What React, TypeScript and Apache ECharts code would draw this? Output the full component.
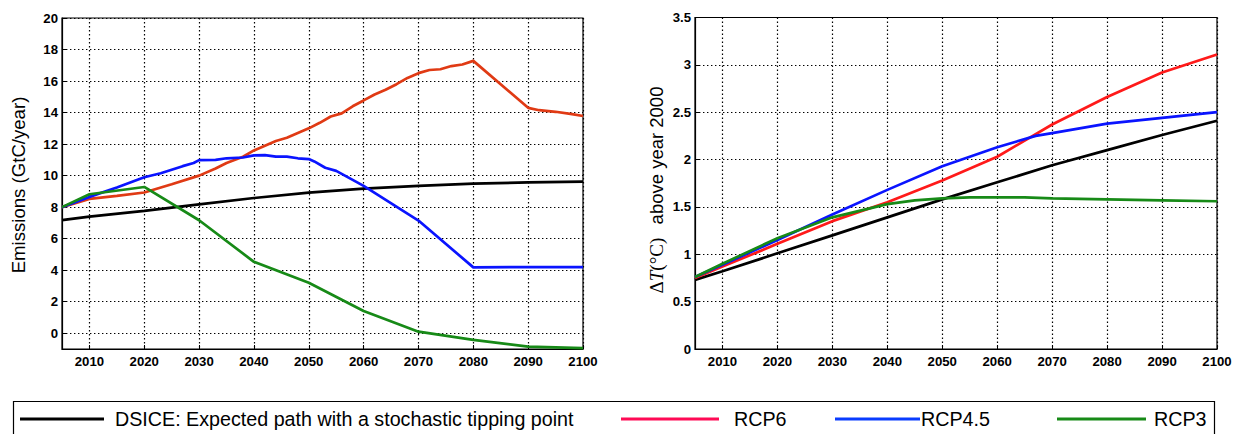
import React, { useEffect, useRef } from "react";
import * as echarts from "echarts";

// ---------- Data ----------
const xTicks = [2010, 2020, 2030, 2040, 2050, 2060, 2070, 2080, 2090, 2100];
const emisTicks = [0, 2, 4, 6, 8, 10, 12, 14, 16, 18, 20];
const tempTicks = [0, 0.5, 1, 1.5, 2, 2.5, 3, 3.5];

const legendNames = ["DSICE: Expected path with a stochastic tipping point", "RCP6", "RCP4.5", "RCP3"];

// Left panel: emissions (GtC/year)
const emisDsiceYears = [2005, 2010, 2020, 2030, 2040, 2050, 2060, 2070, 2080, 2090, 2100];
const emisDsice = [7.18, 7.4, 7.76, 8.18, 8.58, 8.92, 9.18, 9.35, 9.49, 9.57, 9.62];

const emisRcp6Years = [2005, 2010, 2015, 2020, 2025, 2030, 2033, 2035, 2038, 2040, 2042, 2044, 2046, 2048, 2050, 2052, 2054, 2056, 2058, 2060, 2062, 2064, 2066, 2068, 2070, 2072, 2074, 2076, 2078, 2080, 2090, 2092, 2095, 2098, 2100];
const emisRcp6 = [8.0, 8.52, 8.72, 8.93, 9.45, 10.0, 10.45, 10.8, 11.2, 11.6, 11.9, 12.2, 12.4, 12.7, 13.0, 13.35, 13.75, 13.95, 14.4, 14.77, 15.15, 15.45, 15.8, 16.2, 16.5, 16.7, 16.75, 16.95, 17.05, 17.28, 14.3, 14.15, 14.05, 13.9, 13.78];

const emisRcp45Years = [2005, 2010, 2015, 2020, 2023, 2027, 2029, 2030, 2033, 2035, 2038, 2040, 2042, 2044, 2046, 2048, 2050, 2051, 2053, 2055, 2060, 2070, 2080, 2090, 2100];
const emisRcp45 = [8.0, 8.65, 9.25, 9.9, 10.15, 10.6, 10.8, 10.98, 11.0, 11.1, 11.15, 11.28, 11.3, 11.2, 11.2, 11.1, 11.05, 10.9, 10.5, 10.3, 9.35, 7.15, 4.18, 4.2, 4.2];

const emisRcp3Years = [2005, 2010, 2020, 2030, 2040, 2050, 2060, 2070, 2080, 2090, 2100];
const emisRcp3 = [8.0, 8.82, 9.28, 7.17, 4.53, 3.2, 1.41, 0.1, -0.42, -0.85, -0.95];

// Right panel: temperature above year 2000 (°C)
const tempDsiceYears = [2005, 2010, 2020, 2030, 2040, 2050, 2060, 2070, 2080, 2090, 2100];
const tempDsice = [0.73, 0.82, 1.01, 1.2, 1.39, 1.58, 1.76, 1.94, 2.1, 2.26, 2.41];

const tempRcp6Years = [2005, 2010, 2020, 2030, 2040, 2050, 2060, 2065, 2070, 2080, 2090, 2100];
const tempRcp6 = [0.75, 0.87, 1.11, 1.35, 1.55, 1.78, 2.03, 2.2, 2.37, 2.66, 2.92, 3.11];

const tempRcp45Years = [2005, 2010, 2020, 2030, 2040, 2050, 2060, 2067, 2070, 2080, 2090, 2100];
const tempRcp45 = [0.76, 0.89, 1.15, 1.42, 1.68, 1.93, 2.13, 2.25, 2.28, 2.38, 2.44, 2.5];

const tempRcp3Years = [2005, 2010, 2020, 2030, 2040, 2045, 2050, 2055, 2060, 2065, 2070, 2080, 2090, 2100];
const tempRcp3 = [0.76, 0.9, 1.17, 1.39, 1.53, 1.57, 1.59, 1.6, 1.6, 1.6, 1.59, 1.58, 1.57, 1.56];

// ---------- Styling ----------
const leftColors = ["#000000", "#e03a14", "#0a14ff", "#178a17"];
const rightColors = ["#000000", "#ff1a1a", "#0a14ff", "#178a17"];
const legendColors = ["#000000", "#ff0a55", "#0a3cff", "#178a17"];

const pairs = (xs: number[], ys: number[]) => xs.map((x, i) => [x, ys[i]]);

export default function App() {
  const ref = useRef<HTMLDivElement>(null);

  useEffect(() => {
    if (!ref.current) return;
    const chart = echarts.init(ref.current, undefined, { renderer: "svg" });

    const tickFont = {
      fontFamily: "Liberation Sans",
      fontWeight: "bold" as const,
      fontSize: 13.2,
      color: "#000",
    };
    const splitLine = { show: true, lineStyle: { color: "#000", width: 1.2, type: [1.4, 2.6] as number[] } };
    const axisLine = { show: true, onZero: false, lineStyle: { color: "#000", width: 1.2 } };

    const xAxisBase = (gridIndex: number) => ({
      type: "value" as const,
      gridIndex,
      min: 2005,
      max: 2100,
      axisLine,
      axisTick: { show: true, inside: true, length: 4, customValues: xTicks, lineStyle: { color: "#000" } },
      axisLabel: {
        ...tickFont,
        margin: 6,
        customValues: xTicks,
        showMinLabel: true,
        showMaxLabel: true,
        formatter: (v: number) => String(v),
      },
      splitLine,
    });

    const mk = (name: string, data: number[][], color: string, xi: number) => ({
      name,
      type: "line" as const,
      xAxisIndex: xi,
      yAxisIndex: xi,
      data,
      showSymbol: false,
      symbol: "none",
      lineStyle: { color, width: 2.7 },
      itemStyle: { color },
      z: 3,
    });

    const legendY = 419;
    const legendItems = [
      { x1: 20, x2: 104, tx: 115 },
      { x1: 621, x2: 719, tx: 734 },
      { x1: 835, x2: 920, tx: 921 },
      { x1: 1057, x2: 1146, tx: 1154 },
    ];

    const graphic: any[] = [
      {
        type: "rect",
        shape: { x: 13.5, y: 401.5, width: 1201, height: 60 },
        style: { fill: "#fff", stroke: "#000", lineWidth: 1.2 },
        z: 10,
      },
      ...legendItems.flatMap((it, i) => [
        {
          type: "line",
          shape: { x1: it.x1, y1: legendY, x2: it.x2, y2: legendY },
          style: { stroke: legendColors[i], lineWidth: 3 },
          z: 11,
        },
        {
          type: "text",
          x: it.tx,
          y: legendY,
          style: {
            text: legendNames[i],
            fill: "#000",
            font: "19.7px 'Liberation Sans', Arial, sans-serif",
            textAlign: "left",
            textVerticalAlign: "middle",
          },
          z: 11,
        },
      ]),
      {
        type: "text",
        x: 18,
        y: 185,
        rotation: Math.PI / 2,
        style: {
          text: "Emissions (GtC/year)",
          fill: "#000",
          font: "18.6px 'Liberation Sans', Arial, sans-serif",
          textAlign: "center",
          textVerticalAlign: "middle",
        },
      },
      {
        type: "text",
        x: 656,
        y: 190,
        rotation: Math.PI / 2,
        style: {
          text: "{a|Δ}{b|T}{a|(°C)}    {c|above year 2000}",
          textAlign: "center",
          textVerticalAlign: "middle",
          rich: {
            a: { fontFamily: "Liberation Serif", fontSize: 19, color: "#222" },
            b: { fontFamily: "Liberation Serif", fontStyle: "italic", fontSize: 19, color: "#222" },
            c: { fontFamily: "Liberation Sans", fontSize: 18.5, color: "#111" },
          },
        },
      },
    ];

    chart.setOption({
      animation: false,
      backgroundColor: "#fff",
      grid: [
        { left: 62, top: 18, width: 521, height: 331, show: true, borderColor: "#000", borderWidth: 1.2, backgroundColor: "transparent" },
        { left: 695, top: 17.5, width: 522, height: 331.5, show: true, borderColor: "#000", borderWidth: 1.2, backgroundColor: "transparent" },
      ],
      xAxis: [xAxisBase(0), xAxisBase(1)],
      yAxis: [
        {
          type: "value",
          gridIndex: 0,
          min: -1,
          max: 20,
          axisLine,
          axisTick: { show: true, inside: true, length: 4, customValues: emisTicks, lineStyle: { color: "#000" } },
          axisLabel: { ...tickFont, margin: 4, customValues: emisTicks },
          splitLine,
        },
        {
          type: "value",
          gridIndex: 1,
          min: 0,
          max: 3.5,
          interval: 0.5,
          axisLine,
          axisTick: { show: true, inside: true, length: 4, customValues: tempTicks, lineStyle: { color: "#000" } },
          axisLabel: { ...tickFont, margin: 4, customValues: tempTicks },
          splitLine,
        },
      ],
      series: [
        mk(legendNames[0], pairs(emisDsiceYears, emisDsice), leftColors[0], 0),
        mk(legendNames[1], pairs(emisRcp6Years, emisRcp6), leftColors[1], 0),
        mk(legendNames[2], pairs(emisRcp45Years, emisRcp45), leftColors[2], 0),
        mk(legendNames[3], pairs(emisRcp3Years, emisRcp3), leftColors[3], 0),
        mk(legendNames[0], pairs(tempDsiceYears, tempDsice), rightColors[0], 1),
        mk(legendNames[1], pairs(tempRcp6Years, tempRcp6), rightColors[1], 1),
        mk(legendNames[2], pairs(tempRcp45Years, tempRcp45), rightColors[2], 1),
        mk(legendNames[3], pairs(tempRcp3Years, tempRcp3), rightColors[3], 1),
      ],
      graphic,
    });

    return () => chart.dispose();
  }, []);

  return (
    <div
      ref={ref}
      style={{ position: "absolute", left: 0, top: 0, width: 1236, height: 434, background: "#fff" }}
    />
  );
}
